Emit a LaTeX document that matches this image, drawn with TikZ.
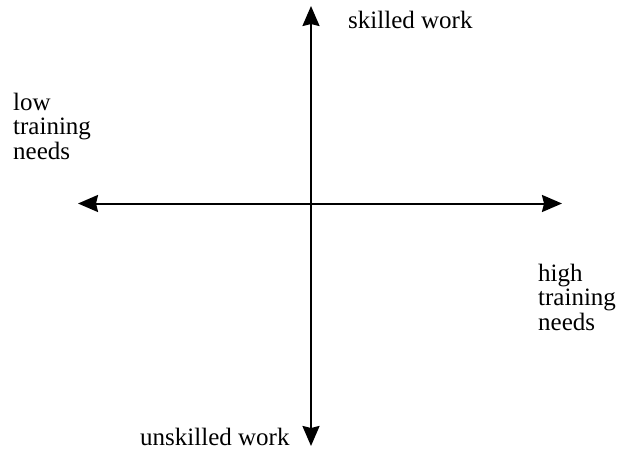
\documentclass[tikz,border=0pt]{standalone}
\usepackage{fontspec}
\setmainfont{Liberation Serif}
\usetikzlibrary{arrows.meta}
\tikzset{
  tip/.tip={Stealth[length=20pt,width=17pt,inset=2pt]},
  axis/.style={line width=2pt, {tip}-{tip}},
  lbl/.style={inner sep=0pt, font=\fontsize{25}{24.5}\selectfont, align=left, anchor=base west}
}
\begin{document}
\begin{tikzpicture}[x=1pt,y=-1pt]
\useasboundingbox (0,0) rectangle (618,450);
\coordinate (top) at (311,6);
\coordinate (bottom) at (311,446);
\coordinate (left) at (78,203.5);
\coordinate (right) at (562,203.5);
\draw[axis] (bottom) -- (top);
\draw[axis] (left) -- (right);
\node[lbl] (skilled) at (348,28) {skilled work};
\node[lbl] (unskilled) at (140,445) {unskilled work};
\node[lbl] (low) at (13,159) {low\\training\\needs};
\node[lbl] (high) at (538,330) {high\\training\\needs};
\end{tikzpicture}
\end{document}
